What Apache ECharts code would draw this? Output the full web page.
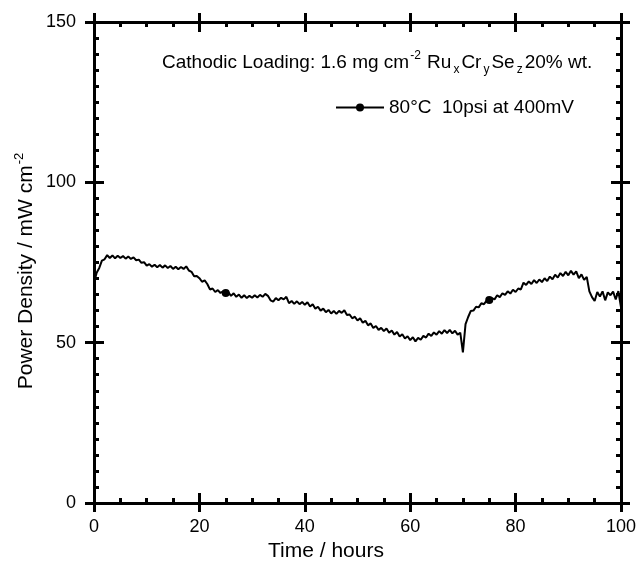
<!DOCTYPE html>
<html>
<head>
<meta charset="utf-8">
<script src="https://cdn.jsdelivr.net/npm/echarts@6/dist/echarts.min.js"></script>
<style>
html,body{margin:0;padding:0;background:#fff;}
#chart{width:643px;height:566px;}
</style>
</head>
<body>
<div id="chart"></div>
<script>
// Power density (mW cm-2) sampled every 0.5 h from 0 to 100 h
const power = [
  68.5, 71.8, 73.3, 75.6, 76.0, 77.3, 76.4, 77.2, 76.3, 77.1,
  76.4, 77.0, 76.2, 76.9, 76.1, 76.6, 75.7, 75.9, 74.9, 75.1,
  74.0, 74.5, 73.7, 74.3, 73.5, 74.2, 73.4, 74.1, 73.3, 73.9,
  73.0, 73.7, 72.9, 73.6, 73.0, 73.8, 72.5, 72.1, 70.7, 70.8,
  70.1, 69.0, 69.4, 68.3, 66.6, 66.9, 65.8, 66.4, 65.5, 66.0,
  65.5, 65.7, 64.6, 65.4, 64.3, 65.0, 64.0, 64.8, 63.9, 64.6,
  64.0, 64.8, 64.1, 64.9, 64.3, 65.2, 64.6, 63.2, 62.8, 63.9,
  63.2, 64.0, 63.5, 64.3, 62.3, 63.0, 62.1, 62.9, 62.0, 62.7,
  61.8, 62.6, 61.3, 62.0, 60.6, 61.2, 60.0, 60.6, 59.5, 60.2,
  59.1, 59.9, 59.0, 59.9, 59.3, 60.1, 58.6, 58.8, 57.6, 58.1,
  56.9, 57.6, 56.2, 56.8, 55.4, 56.0, 54.6, 55.2, 54.0, 54.6,
  53.6, 54.4, 53.1, 53.8, 52.5, 53.3, 51.9, 52.6, 51.3, 52.0,
  50.8, 51.7, 50.4, 51.5, 50.9, 52.1, 51.6, 52.8, 52.1, 53.2,
  52.5, 53.6, 52.8, 53.9, 53.0, 54.0, 52.9, 53.7, 52.5, 53.1,
  47.0, 55.8, 58.0, 59.9, 60.0, 61.2, 61.0, 62.3, 62.0, 63.1,
  63.3, 63.9, 63.5, 64.8, 64.2, 65.4, 64.9, 66.0, 65.3, 66.5,
  65.8, 66.9, 66.6, 68.7, 68.0, 69.1, 68.3, 69.5, 68.6, 69.7,
  68.9, 70.1, 69.2, 70.6, 69.8, 71.2, 70.3, 71.7, 70.8, 72.1,
  71.0, 72.4, 71.2, 72.2, 70.1, 71.3, 69.6, 70.5, 66.0, 64.2,
  63.0, 65.8, 64.4, 66.0, 63.2, 65.7, 64.8, 65.9, 63.5, 66.1,
  61.0
];
const timeStep = 0.5;
const times = power.map((_, i) => i * timeStep);
const markerTimes = [25, 75];
const xTicks = [0, 20, 40, 60, 80, 100];
const yTicks = [0, 50, 100, 150];
const seriesName = '80°C  10psi at 400mV';

const FONT = 'Liberation Sans, Arial, sans-serif';
const BLACK = '#000';

function xAxisDef(pos, inside, labels) {
  return {
    type: 'value', position: pos, min: xTicks[0], max: xTicks[xTicks.length - 1],
    interval: xTicks[1] - xTicks[0],
    axisLine: { show: true, onZero: false, lineStyle: { color: BLACK, width: 3 } },
    axisTick: { show: true, inside: inside, length: inside ? 10 : 9, lineStyle: { color: BLACK, width: 3 } },
    minorTick: { show: inside, splitNumber: 4, length: 5, lineStyle: { color: BLACK, width: 3 } },
    axisLabel: { show: labels, color: BLACK, fontSize: 18, fontFamily: FONT, margin: 15 },
    splitLine: { show: false }, minorSplitLine: { show: false }
  };
}
function yAxisDef(pos, inside, labels) {
  return {
    type: 'value', position: pos, min: yTicks[0], max: yTicks[yTicks.length - 1],
    interval: yTicks[1] - yTicks[0],
    axisLine: { show: true, onZero: false, lineStyle: { color: BLACK, width: 3 } },
    axisTick: { show: true, inside: inside, length: inside ? 10 : 9, lineStyle: { color: BLACK, width: 3 } },
    minorTick: { show: inside, splitNumber: 10, length: 5, lineStyle: { color: BLACK, width: 3 } },
    axisLabel: { show: labels, color: BLACK, fontSize: 18, fontFamily: FONT, margin: 18 },
    splitLine: { show: false }, minorSplitLine: { show: false }
  };
}

const chart = echarts.init(document.getElementById('chart'), null, { renderer: 'canvas' });
chart.setOption({
  backgroundColor: '#fff',
  animation: false,
  grid: { left: 94, right: 22, top: 22, bottom: 63, containLabel: false },
  xAxis: [
    xAxisDef('bottom', true, true),
    xAxisDef('bottom', false, false),
    xAxisDef('top', true, false),
    xAxisDef('top', false, false)
  ],
  yAxis: [
    yAxisDef('left', true, true),
    yAxisDef('left', false, false),
    yAxisDef('right', true, false),
    yAxisDef('right', false, false)
  ],
  legend: {
    left: 335, top: 98, padding: 0,
    itemWidth: 48, itemHeight: 10, itemGap: 5,
    textStyle: { color: BLACK, fontSize: 19, fontFamily: FONT },
    data: [seriesName]
  },
  series: [{
    name: seriesName,
    type: 'line',
    xAxisIndex: 0, yAxisIndex: 0,
    data: times.map((t, i) => [t, power[i]]),
    symbol: 'circle',
    showSymbol: true,
    symbolSize: (val) => markerTimes.includes(val[0]) ? 8 : 0,
    itemStyle: { color: BLACK },
    lineStyle: { color: BLACK, width: 2 },
    clip: true
  }],
  graphic: [
    {
      type: 'text', left: 162, top: 50,
      style: {
        text: '{t|Cathodic Loading: 1.6 mg cm}{sup|-2}{t| Ru}{sub|x}{t|Cr}{sub|y}{t|Se}{sub|z}{t|20% wt.}',
        rich: {
          t: { fontSize: 19, fontFamily: FONT, fill: BLACK },
          sup: { fontSize: 12, fontFamily: FONT, fill: BLACK, padding: [0, 1, 14, 1] },
          sub: { fontSize: 12, fontFamily: FONT, fill: BLACK, padding: [14, 2, 0, 2] }
        }
      }
    },
    {
      type: 'text', x: 326, y: 551,
      style: { text: 'Time / hours', fontSize: 21, fontFamily: FONT, fill: BLACK, textAlign: 'center', textVerticalAlign: 'middle' }
    },
    {
      type: 'text', x: 26, y: 271, rotation: Math.PI / 2,
      style: {
        text: '{t|Power Density / mW cm}{sup|-2}',
        textAlign: 'center', textVerticalAlign: 'middle',
        rich: {
          t: { fontSize: 21, fontFamily: FONT, fill: BLACK },
          sup: { fontSize: 13, fontFamily: FONT, fill: BLACK, padding: [0, 0, 14, 1] }
        }
      }
    }
  ]
});
</script>
</body>
</html>
